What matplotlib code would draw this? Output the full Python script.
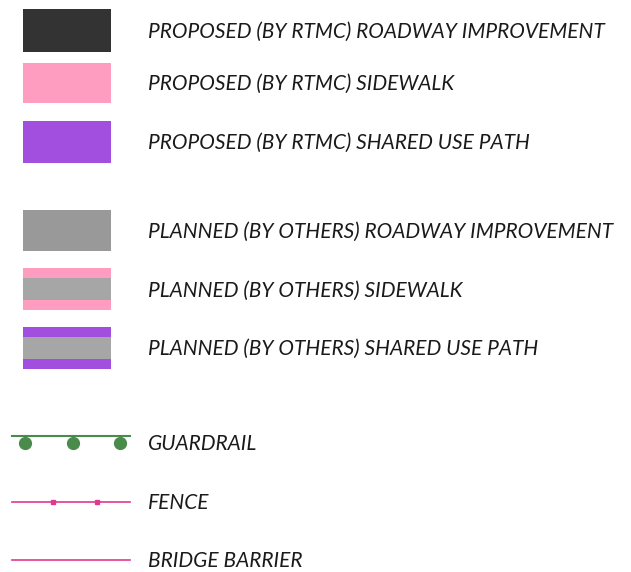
import matplotlib
matplotlib.use("Agg")
import matplotlib.pyplot as plt

# Legend content
labels = [
    "PROPOSED (BY RTMC) ROADWAY IMPROVEMENT",
    "PROPOSED (BY RTMC) SIDEWALK",
    "PROPOSED (BY RTMC) SHARED USE PATH",
    "PLANNED (BY OTHERS) ROADWAY IMPROVEMENT",
    "PLANNED (BY OTHERS) SIDEWALK",
    "PLANNED (BY OTHERS) SHARED USE PATH",
    "GUARDRAIL",
    "FENCE",
    "BRIDGE BARRIER",
]
swatch_fill = ["#333333", "#FF9DC0", "#A24FE0", "#999999", "#A6A6A6", "#A6A6A6"]
swatch_edge = [None, None, None, None, "#FF9DC0", "#A24FE0"]
line_colors = ["#4A8A4A", "#E2388F", "#E2388F"]

# layout (pixels)
W, H = 631, 572
row_y = [31.5, 83, 142, 231.5, 290, 348, 443, 502, 560.5]
sw_top = [9, 63, 121, 210, 268, 327]
sw_bot = [52, 103, 163, 251, 310, 369]
sw_x0, sw_x1 = 23, 111
stripe = 10
text_x = 148
cap_px = 13.5

fig = plt.figure(figsize=(W / 100, H / 100), dpi=100)
ax = fig.add_axes([0, 0, 1, 1])
ax.set_xlim(0, W)
ax.set_ylim(H, 0)
ax.axis("off")

for i in range(6):
    t, b = sw_top[i], sw_bot[i]
    ax.barh((t + b) / 2, sw_x1 - sw_x0, left=sw_x0, height=b - t,
            color=swatch_fill[i], linewidth=0)
    if swatch_edge[i]:
        ax.barh(t + stripe / 2, sw_x1 - sw_x0, left=sw_x0, height=stripe,
                color=swatch_edge[i], linewidth=0)
        ax.barh(b - stripe / 2, sw_x1 - sw_x0, left=sw_x0, height=stripe,
                color=swatch_edge[i], linewidth=0)

# guardrail
ax.plot([12, 130], [436, 436], color=line_colors[0], lw=1.5)
ax.plot([25, 73, 120], [443, 443, 443], ls="none", marker="o", ms=8.5,
        color=line_colors[0])
# fence
ax.plot([12, 130], [502, 502], color=line_colors[1], lw=1.2)
ax.plot([53, 97], [502, 502], ls="none", marker="s", ms=2.5, color=line_colors[1])
# bridge barrier
ax.plot([12, 130], [560, 560], color=line_colors[2], lw=1.2)

font = dict(family="Lato", style="italic", color="#1a1a1a")
texts = []
for lab, y in zip(labels, row_y):
    texts.append(ax.text(text_x, y + cap_px / 2, lab, va="baseline", ha="left",
                         fontsize=14, **font))

# scale font so first label spans ~459 px
fig.canvas.draw()
r = fig.canvas.get_renderer()
w = texts[0].get_window_extent(r).width
fs = 14 * 459 / w
for t in texts:
    t.set_fontsize(fs)

fig.savefig("out.png", dpi=100)
